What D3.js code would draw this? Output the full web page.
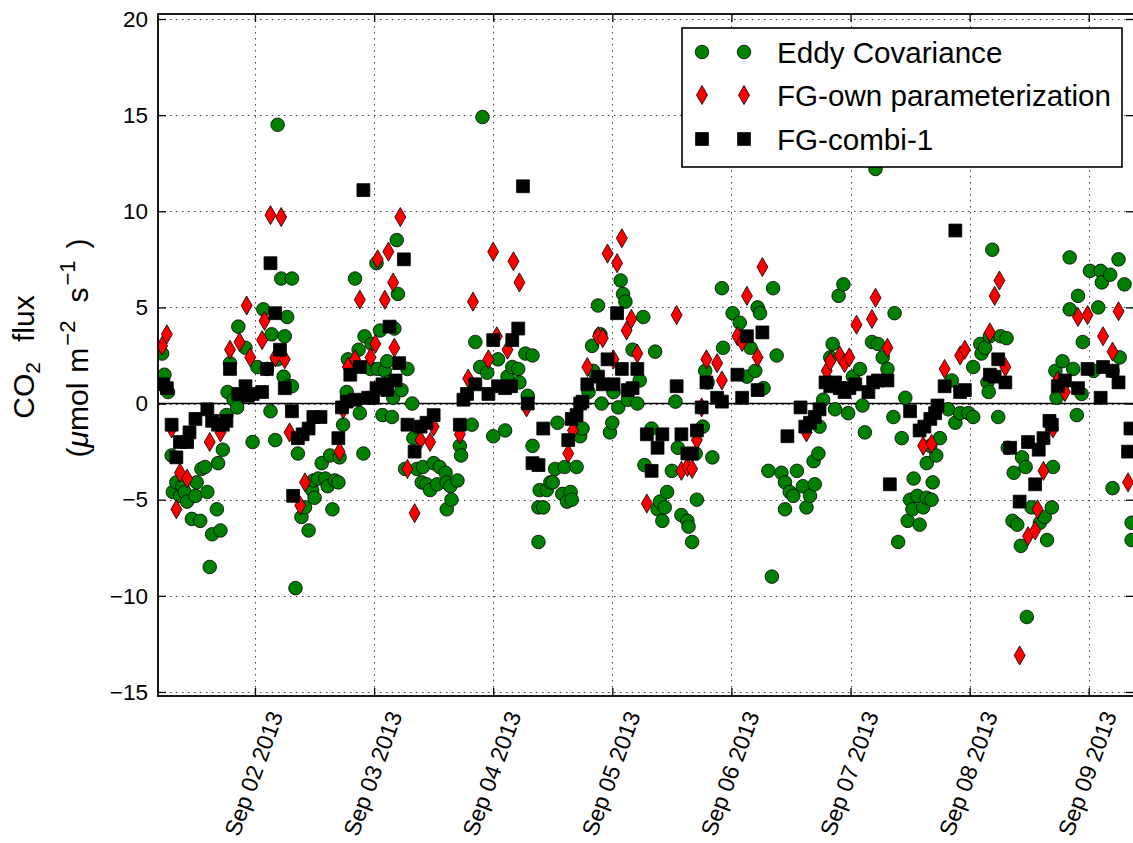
<!DOCTYPE html>
<html>
<head>
<meta charset="utf-8">
<script src="https://cdn.jsdelivr.net/npm/d3@7"></script>
<style>
  body { margin: 0; background: #fff; }
  svg { display: block; font-family: "Liberation Sans", Arial, sans-serif; }
</style>
</head>
<body>
<svg id="chart" width="1133" height="843"></svg>
<script>
// [day of Sep 2013 (fractional), CO2 flux]
var eddyCov = [
  [1.22,2.6],[1.24,1.5],[1.27,0.6],[1.30,-2.7],[1.31,-4.6],[1.34,-4.1],[1.37,-4.8],[1.39,-4.3],[1.41,-4.6],[1.43,-5.1],
  [1.47,-6.0],[1.50,-4.8],[1.51,-4.1],[1.54,-6.1],[1.55,-3.4],[1.58,-3.3],[1.60,-4.6],[1.62,-8.5],[1.64,-6.8],[1.68,-5.5],
  [1.69,-3.1],[1.71,-6.6],[1.73,-2.4],[1.76,-0.6],[1.77,0.6],[1.79,2.1],[1.82,0.2],[1.85,-0.2],[1.86,4.0],[1.92,2.9],[1.98,-2.0],
  [2.02,1.9],[2.07,4.9],[2.10,1.8],[2.13,-0.4],[2.14,3.6],[2.17,-1.9],[2.19,2.3],[2.19,14.5],[2.22,6.5],[2.24,1.4],
  [2.25,3.5],[2.27,4.5],[2.28,0.9],[2.31,6.5],[2.31,0.9],[2.34,-9.6],[2.36,-2.6],[2.39,-5.9],[2.42,-5.4],[2.45,-6.6],
  [2.48,-4.5],[2.49,-4.0],[2.50,-4.9],[2.53,-3.9],[2.56,-3.1],[2.59,-3.9],[2.61,-4.3],[2.63,-2.7],[2.65,-5.5],[2.67,-4.0],
  [2.70,-4.1],[2.71,-2.8],[2.74,-1.1],[2.77,0.6],[2.78,2.3],[2.84,6.5],[2.87,2.8],[2.88,-0.5],[2.91,-2.6],[2.92,3.5],
  [2.95,1.9],[2.97,1.8],[2.98,3.1],[3.02,7.3],[3.03,1.8],[3.05,3.8],[3.07,-0.6],[3.09,1.7],[3.11,2.2],[3.12,1.1],[3.15,-0.7],
  [3.17,3.9],[3.19,8.5],[3.20,5.7],
  [3.16,0.3],[3.23,0.7],[3.28,1.8],[3.32,0.0],[3.26,-3.4],[3.33,-1.8],[3.36,-3.4],[3.40,-4.1],[3.41,-3.3],[3.44,-4.2],
  [3.47,-4.5],[3.50,-3.1],[3.53,-4.2],[3.55,-3.3],[3.60,-3.6],[3.61,-4.1],[3.61,-5.5],[3.64,-4.3],[3.65,-5.0],[3.70,-4.0],
  [3.72,-2.2],[3.73,-2.7],[3.82,-1.1],[3.85,3.2],[3.89,1.9],[3.91,14.9],[3.95,1.6],[4.00,-1.7],[4.04,2.3],[4.10,-1.4],
  [4.12,1.4],[4.16,1.9],[4.21,1.8],[4.22,1.1],[4.27,2.6],[4.29,0.4],[4.33,2.5],[4.33,-2.2],
  [4.38,-5.4],[4.38,-7.2],[4.39,-4.5],[4.42,-5.4],[4.45,-4.5],[4.48,-4.1],[4.50,-4.1],[4.52,-3.4],[4.54,-1.0],[4.58,-4.7],
  [4.60,-3.3],[4.62,-5.1],[4.65,-4.6],[4.66,-5.0],[4.70,-3.3],[4.73,-1.7],[4.75,-1.3],[4.80,0.6],[4.83,3.0],[4.84,1.7],
  [4.88,5.1],[4.90,3.6],[4.91,0.0],[4.98,-1.5],[5.00,-1.0],[5.01,0.6],[5.05,-0.2],[5.07,6.4],[5.09,5.7],[5.11,5.3],
  [5.13,0.2],[5.17,2.8],[5.21,0.0],[5.23,1.2],[5.26,4.5],[5.27,-3.2],[5.33,-1.3],[5.36,2.7],
  [5.38,-5.5],[5.40,-5.1],[5.42,-6.1],[5.44,-5.4],[5.46,-4.6],[5.50,-3.5],[5.53,0.1],[5.55,-2.3],[5.58,-5.8],[5.63,-6.1],
  [5.64,-6.4],[5.67,-7.2],[5.70,-2.6],[5.71,-5.0],[5.76,-1.2],[5.78,1.7],[5.80,1.1],[5.84,-2.8],[5.92,6.0],[5.93,2.9],
  [6.01,4.7],[6.07,4.2],[6.13,1.4],[6.16,2.9],[6.20,1.7],[6.22,5.0],[6.24,4.7],[6.27,0.8],[6.31,-3.5],[6.34,-9.0],
  [6.35,6.0],[6.38,2.5],
  [6.42,-3.6],[6.45,-4.1],[6.45,-5.5],[6.49,-4.6],[6.52,-4.8],[6.55,-3.5],[6.60,-4.3],[6.63,-5.4],[6.66,-4.8],[6.69,-3.0],
  [6.70,-4.2],[6.73,-2.6],[6.74,-1.2],[6.77,0.2],[6.83,2.4],[6.85,3.1],[6.87,-0.3],[6.90,5.6],[6.94,6.2],[6.98,-0.5],
  [7.02,1.4],[7.08,1.8],[7.10,-0.1],[7.12,-1.5],[7.18,3.2],[7.21,12.2],[7.23,3.1],[7.27,2.4],[7.31,1.8],[7.36,-0.7],[7.37,4.7],
  [7.40,-7.2],[7.43,-1.8],[7.46,0.3],[7.48,-6.1],[7.50,-5.0],[7.52,-5.5],[7.53,-3.9],[7.56,-4.8],[7.58,-6.3],[7.61,-5.4],
  [7.64,-4.9],[7.64,-3.1],[7.67,-2.2],[7.68,-5.0],[7.69,-4.1],[7.72,-2.7],[7.75,-1.8],[7.82,-0.3],[7.85,1.2],[7.88,-1.0],
  [7.92,-0.5],[7.99,-0.5],[8.03,-0.7],[8.03,1.9],[8.09,3.1],[8.10,2.6],[8.13,2.9],[8.15,1.1],[8.16,0.6],[8.17,3.5],
  [8.19,8.0],[8.24,-0.7],[8.26,3.5],[8.31,3.4],
  [8.32,-2.3],[8.36,-6.1],[8.37,-3.6],[8.40,-6.3],[8.43,-7.4],[8.44,-2.8],[8.47,-3.3],[8.48,-11.1],[8.52,-5.4],[8.59,-6.2],
  [8.63,-5.9],[8.65,-7.1],[8.69,-5.4],[8.70,-3.3],[8.72,1.7],[8.73,0.3],[8.78,2.2],[8.79,1.1],[8.84,7.6],[8.84,4.9],
  [8.87,1.8],[8.90,-0.6],[8.91,5.6],[8.94,0.5],[8.95,3.2],[9.01,6.9],[9.04,1.7],[9.08,5.0],[9.10,6.9],[9.11,6.3],
  [9.18,6.7],[9.20,1.7],[9.20,-4.4],[9.25,7.5],[9.26,2.4],[9.30,6.2],[9.36,-6.2],[9.36,-7.1]
];

var fgOwn = [
  [1.22,3.0],[1.26,3.6],[1.30,-1.3],[1.34,-5.5],[1.37,-3.6],[1.43,-3.9],[1.62,-2.0],[1.71,-1.5],[1.79,2.8],[1.87,3.2],
  [1.93,5.1],[1.96,2.4],[2.06,3.3],[2.08,4.3],[2.13,9.8],[2.17,2.4],[2.22,9.7],[2.25,2.3],[2.29,-1.5],[2.38,-5.3],
  [2.42,-4.1],[2.71,-2.5],[2.74,-0.3],[2.78,1.9],[2.84,2.3],[2.88,5.4],[2.97,2.4],[3.01,3.1],[3.03,7.5],[3.09,5.4],
  [3.12,7.9],[3.16,6.3],[3.17,2.9],[3.22,9.7],
  [3.28,-3.4],[3.34,-5.7],[3.39,-1.9],[3.47,-2.0],[3.50,-1.2],[3.72,-1.6],[3.79,1.3],[3.83,5.3],[3.96,2.3],[4.00,7.9],
  [4.03,3.5],[4.12,2.8],[4.17,7.4],[4.22,6.3],[4.28,-0.2],[4.63,-2.6],[4.67,-1.4],[4.79,1.9],[4.88,3.5],[4.92,3.4],
  [4.96,7.8],[5.01,2.3],[5.04,7.3],[5.08,8.6],[5.12,3.8],[5.16,4.4],[5.21,2.6],[5.29,-5.2],[5.54,4.6],[5.58,-3.5],
  [5.63,-3.3],[5.67,-3.4],[5.71,-1.9],[5.75,-0.2],[5.79,2.3],[5.88,2.1],[5.92,1.2],[6.05,3.5],[6.09,3.2],[6.13,5.6],
  [6.22,2.4],[6.26,7.1],[6.63,-1.5],[6.80,1.7],[6.83,2.2],[6.91,2.5],[6.95,2.1],[6.99,2.4],[7.05,4.1],[7.18,4.4],
  [7.21,5.5],[7.31,2.9],[7.61,-2.2],[7.68,-2.1],[7.79,1.8],[7.92,2.5],[7.96,2.8],[8.17,3.7],[8.21,5.6],[8.25,6.4],
  [8.30,1.9],[8.42,-13.1],[8.49,-6.9],[8.55,-6.6],[8.57,-5.5],[8.62,-3.5],[8.70,-1.3],[8.74,1.2],[8.80,0.6],[8.91,4.5],
  [8.99,4.6],[9.12,3.5],[9.20,2.7],[9.25,4.8],[9.33,-4.1]
];

var fgCombi = [
  [1.23,1.0],[1.26,0.8],[1.30,-1.1],[1.34,-2.8],[1.37,-2.0],[1.43,-2.0],[1.45,-1.5],[1.50,-0.8],[1.60,-0.3],[1.64,-0.9],
  [1.69,-1.1],[1.73,-1.1],[1.76,-0.9],[1.79,1.8],[1.86,0.5],[1.92,0.9],[1.94,0.4],[1.98,0.5],[2.06,0.6],[2.10,1.8],
  [2.13,7.3],[2.17,4.7],[2.21,2.8],[2.25,0.8],[2.31,-0.4],[2.32,-4.8],[2.36,-1.8],[2.40,-1.6],[2.45,-1.3],[2.49,-0.7],
  [2.55,-0.7],[2.70,-1.8],[2.73,-0.2],[2.77,0.1],[2.80,1.5],[2.84,0.2],[2.88,1.9],[2.91,11.1],[2.95,0.3],[2.99,0.3],
  [3.02,0.8],[3.07,1.0],[3.11,0.7],[3.13,4.0],[3.18,1.2],[3.21,2.1],[3.25,7.5],
  [3.28,-1.1],[3.34,-2.5],[3.39,-1.2],[3.44,-1.0],[3.50,-0.6],[3.72,-1.1],[3.75,0.2],[3.78,0.5],[3.85,1.0],[3.96,0.5],
  [4.00,3.3],[4.04,0.9],[4.10,0.8],[4.15,0.9],[4.16,3.3],[4.21,3.9],[4.25,11.3],[4.29,0.0],[4.33,-3.1],[4.38,-3.2],
  [4.42,-1.3],[4.63,-1.9],[4.66,-0.8],[4.70,-0.6],[4.73,0.0],[4.75,0.1],[4.79,1.0],[4.88,1.4],[4.92,1.0],[4.96,2.3],
  [5.01,1.0],[5.04,4.7],[5.08,1.8],[5.13,0.7],[5.17,0.8],[5.21,1.8],[5.29,-1.6],[5.33,-3.5],[5.38,-2.3],[5.42,-1.6],
  [5.54,0.9],[5.58,-1.6],[5.63,-2.6],[5.67,-2.6],[5.71,-1.4],[5.75,-0.2],[5.79,1.1],[5.88,0.3],[5.92,0.1],[6.05,1.5],
  [6.09,0.3],[6.13,3.5],[6.22,0.7],[6.26,3.7],[6.47,-1.7],[6.58,-0.2],[6.62,-1.2],[6.66,-1.0],[6.70,-0.7],[6.74,-0.3],
  [6.79,1.1],[6.83,0.9],[6.87,1.1],[6.91,0.8],[6.95,0.6],[6.99,0.8],[7.04,1.0],[7.15,0.6],[7.19,1.1],[7.23,1.2],
  [7.31,1.2],[7.33,-4.2],[7.50,-0.4],[7.58,-1.4],[7.62,-1.2],[7.67,-0.8],[7.71,-0.5],[7.73,-0.1],[7.79,0.9],[7.88,9.0],
  [7.92,0.6],[7.96,0.7],[8.17,1.5],[8.21,1.4],[8.24,2.3],[8.30,1.1],[8.34,-2.3],[8.42,-5.1],[8.49,-2.0],[8.55,-4.2],
  [8.58,-2.4],[8.62,-1.8],[8.67,-0.9],[8.69,-1.1],[8.74,0.9],[8.80,1.2],[8.91,0.8],[8.99,1.8],[9.10,0.3],[9.12,1.9],
  [9.20,1.7],[9.25,1.1],[9.33,-2.5],[9.35,-1.3]
];

var yTicks = [-15, -10, -5, 0, 5, 10, 15, 20];
var dayTicks = [2, 3, 4, 5, 6, 7, 8, 9];
var seriesNames = ["Eddy Covariance", "FG-own parameterization", "FG-combi-1"];

var mL = 158, mR = 1134, mT = 14, mB = 696;

var dt = d => new Date(Date.UTC(2013, 8, 1) + (d - 1) * 864e5);

var x = d3.scaleUtc().domain([dt(1.1856), dt(9.38)]).range([mL, mR]);
var y = d3.scaleLinear().domain([-15.21, 20.26]).range([mB, mT]);

var svg = d3.select("#chart");

svg.append("defs").append("clipPath").attr("id", "plotclip")
  .append("rect").attr("x", mL).attr("y", mT)
  .attr("width", mR - mL).attr("height", mB - mT);

// grid
var grid = svg.append("g").attr("stroke", "#444").attr("stroke-width", 1)
  .attr("stroke-dasharray", "1.5,4.5");
grid.selectAll(".vg").data(dayTicks).enter().append("line")
  .attr("x1", d => Math.round(x(dt(d))) + 0.5).attr("x2", d => Math.round(x(dt(d))) + 0.5)
  .attr("y1", mT).attr("y2", mB);
grid.selectAll(".hg").data(yTicks).enter().append("line")
  .attr("y1", d => Math.round(y(d)) + 0.5).attr("y2", d => Math.round(y(d)) + 0.5)
  .attr("x1", mL).attr("x2", mR);

// zero line
svg.append("line")
  .attr("x1", mL).attr("x2", mR)
  .attr("y1", y(0)).attr("y2", y(0))
  .attr("stroke", "#000").attr("stroke-width", 1.6);

var shapes = [
  { data: eddyCov, type: d3.symbolCircle, size: 145, fill: "#008000" },
  { data: fgOwn, type: d3.symbolDiamond, size: 105, fill: "#ff0000" },
  { data: fgCombi, type: d3.symbolSquare, size: 165, fill: "#000000" }
];

var pts = svg.append("g").attr("clip-path", "url(#plotclip)");
shapes.forEach(function(s) {
  pts.append("g").selectAll("path").data(s.data).enter().append("path")
    .attr("d", d3.symbol().type(s.type).size(s.size))
    .attr("transform", d => "translate(" + x(dt(d[0])) + "," + y(d[1]) + ")")
    .attr("fill", s.fill)
    .attr("stroke", "#000")
    .attr("stroke-width", 0.8);
});

// axes
var fmt = d3.utcFormat("%b %d %Y");
var xb = svg.append("g").attr("transform", "translate(0," + mB + ")")
  .call(d3.axisBottom(x).tickValues(dayTicks.map(dt)).tickFormat(fmt).tickSizeInner(-8).tickSizeOuter(0));
xb.select(".domain").remove();
xb.selectAll("line").attr("stroke-width", 1.3);
xb.selectAll("text")
  .attr("x", 0).attr("y", 0).attr("dy", 0)
  .attr("text-anchor", "end")
  .attr("transform", "translate(28,19) rotate(-70)")
  .attr("font-size", 23).attr("fill", "#000")
  .style("font-family", "'Liberation Sans', Arial, sans-serif");

var xt = svg.append("g").attr("transform", "translate(0," + mT + ")")
  .call(d3.axisTop(x).tickValues(dayTicks.map(dt)).tickFormat("").tickSizeInner(-8).tickSizeOuter(0));
xt.select(".domain").remove();
xt.selectAll("line").attr("stroke-width", 1.3);

var yl = svg.append("g").attr("transform", "translate(" + mL + ",0)")
  .call(d3.axisLeft(y).tickValues(yTicks).tickSizeInner(-8).tickSizeOuter(0).tickPadding(10));
yl.select(".domain").remove();
yl.selectAll("line").attr("stroke-width", 1.3);
yl.selectAll("text").attr("font-size", 22.5).attr("fill", "#000")
  .style("font-family", "'Liberation Sans', Arial, sans-serif");

var yr = svg.append("g").attr("transform", "translate(" + mR + ",0)")
  .call(d3.axisRight(y).tickValues(yTicks).tickFormat("").tickSizeInner(-8).tickSizeOuter(0));
yr.select(".domain").remove();
yr.selectAll("line").attr("stroke-width", 1.3);

// frame
svg.append("rect")
  .attr("x", mL).attr("y", mT).attr("width", mR - mL).attr("height", mB - mT)
  .attr("fill", "none").attr("stroke", "#000").attr("stroke-width", 1.8);

// y label
var yl1 = svg.append("text").attr("transform", "translate(34,357) rotate(-90)")
  .attr("text-anchor", "middle").attr("font-size", 30).attr("fill", "#000");
yl1.append("tspan").text("CO");
yl1.append("tspan").attr("font-size", 21).attr("dy", 6).text("2");
yl1.append("tspan").attr("dy", -6).attr("dx", 20).text("flux");

var yl2 = svg.append("text").attr("transform", "translate(88,348) rotate(-90)")
  .attr("text-anchor", "middle").attr("font-size", 30).attr("fill", "#000");
yl2.append("tspan").text("(");
yl2.append("tspan").attr("font-style", "italic").text("\u03bc");
yl2.append("tspan").text("mol");
yl2.append("tspan").attr("dx", 10).text("m");
yl2.append("tspan").attr("font-size", 22).attr("dy", -13).attr("dx", 2).text("\u22122");
yl2.append("tspan").attr("dy", 13).attr("dx", 18).text("s");
yl2.append("tspan").attr("font-size", 22).attr("dy", -13).attr("dx", 2).text("\u22121");
yl2.append("tspan").attr("dy", 13).attr("dx", 12).text(")");

// legend
var lg = svg.append("g");
lg.append("rect").attr("x", 682).attr("y", 28).attr("width", 440).attr("height", 139)
  .attr("fill", "#fff").attr("stroke", "#000").attr("stroke-width", 1.6);
var rowY = [52, 95, 139];
shapes.forEach(function(s, i) {
  [702, 744].forEach(function(mx) {
    lg.append("path")
      .attr("d", d3.symbol().type(s.type).size(s.size))
      .attr("transform", "translate(" + mx + "," + rowY[i] + ")")
      .attr("fill", s.fill).attr("stroke", "#000").attr("stroke-width", 0.8);
  });
  lg.append("text").attr("x", 777).attr("y", rowY[i] + 10.5)
    .attr("font-size", 29.6).attr("fill", "#000").text(seriesNames[i]);
});
</script>
</body>
</html>
